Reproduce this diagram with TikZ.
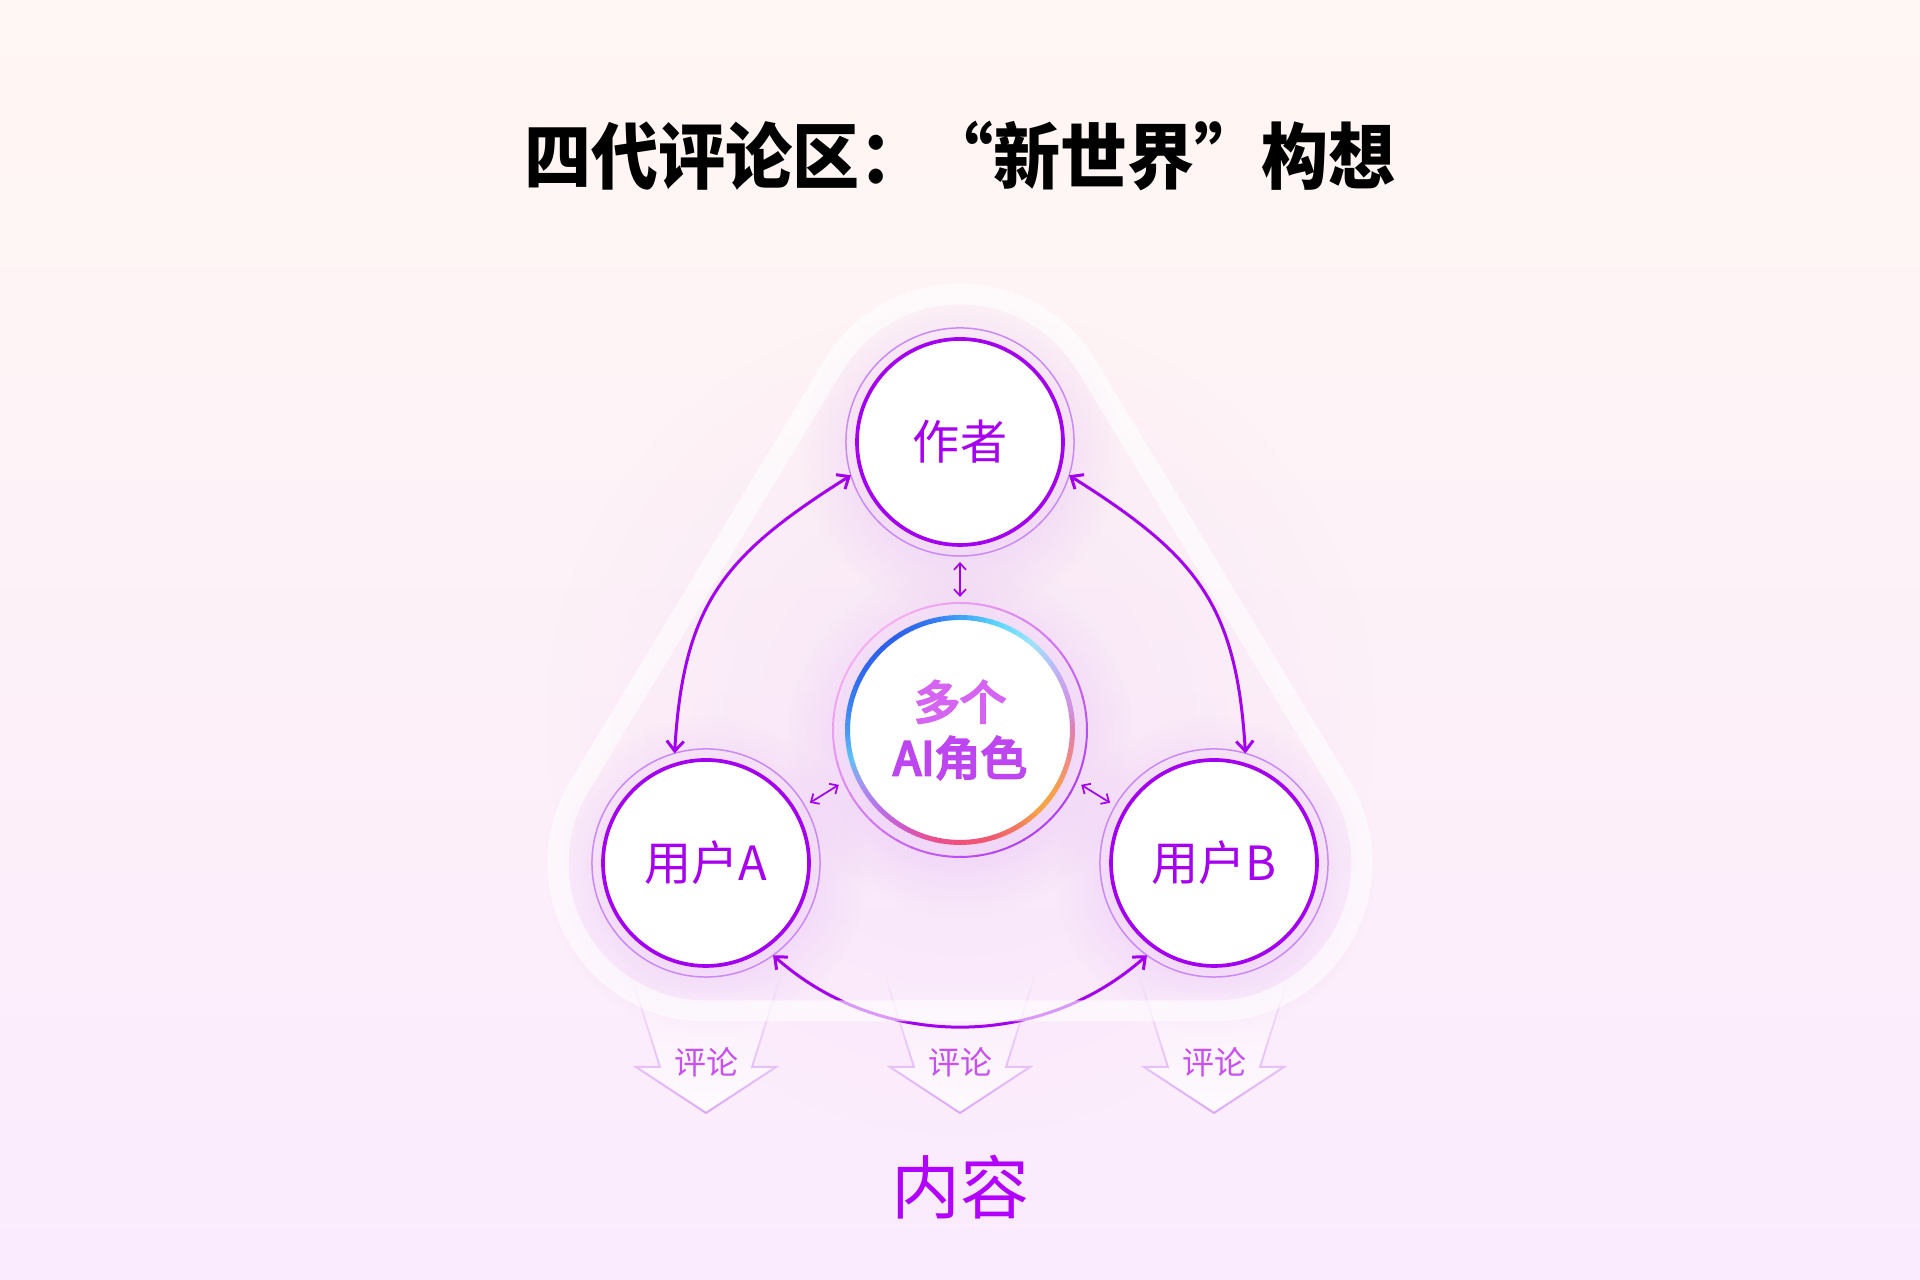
\documentclass[tikz,border=0pt]{standalone}
\usepackage{fontspec}
\setmainfont{Noto Sans CJK SC}
\newfontfamily\cjkmed{Noto Sans CJK SC}[FakeBold=5]
\usetikzlibrary{calc,arrows.meta,fadings}
\definecolor{bgtop}{RGB}{255,247,243}
\definecolor{bgbot}{RGB}{251,235,254}
\definecolor{mainp}{RGB}{163,0,240}
\definecolor{thinring}{RGB}{201,138,245}
\definecolor{txtp}{RGB}{166,0,238}
\definecolor{cmtp}{RGB}{200,80,240}
\definecolor{cmtedge}{RGB}{221,168,247}
\definecolor{contp}{RGB}{178,0,255}
\definecolor{glowc}{RGB}{205,130,245}
\definecolor{ringpink}{RGB}{245,176,240}
\definecolor{ringpurp}{RGB}{176,64,240}
\definecolor{aitop}{RGB}{214,100,242}
\definecolor{aibot}{RGB}{190,70,240}
\tikzfading[name=radfade, inner color=transparent!0, outer color=transparent!100]
\tikzfading[name=fadeup, top color=transparent!100, bottom color=transparent!0]
\begin{document}
\begin{tikzpicture}[x=0.01cm,y=0.01cm,
  bigarr/.style={draw=mainp, line width=0.03cm, {Straight Barb[length=0.1cm,width=0.17cm]}-{Straight Barb[length=0.1cm,width=0.17cm]}},
  smallarr/.style={draw=mainp, line width=0.017cm, {Straight Barb[length=0.065cm,width=0.12cm]}-{Straight Barb[length=0.065cm,width=0.12cm]}, shorten <=0.06cm, shorten >=0.06cm},
  ringnode/.style={circle, inner sep=0pt, outer sep=0pt, minimum size=2.28cm, draw=thinring, line width=0.015cm, text=txtp, font=\fontsize{13.4pt}{16pt}\selectfont},
  innerdisk/.style={fill=white, draw=mainp, line width=0.037cm},
  shadowc/.style={fill=glowc, fill opacity=0.4, path fading=radfade},
  cmtarrow/.style={draw=cmtedge, line width=0.02cm, fill=white, fill opacity=0.8, path fading=fadeup},
  cmt/.style={text=cmtp, font=\fontsize{9.1pt}{11pt}\selectfont},
  band/.style={draw=white, draw opacity=0.6, line width=0.21cm}
]
\useasboundingbox (0,0) rectangle (1920,1280);
\shade[top color=bgtop, bottom color=bgbot] (0,0) rectangle (1920,1280);

\coordinate (T) at (960,838);
\coordinate (AIc) at (960,550);
\coordinate (A) at (706,417);
\coordinate (B) at (1214,417);

% soft glow in the middle
\fill[glowc, fill opacity=0.1, path fading=radfade] (960,560) circle[radius=420];

% shadows
\fill[shadowc] ($(T)+(0,-12)$) circle[radius=160];
\fill[shadowc] ($(A)+(0,-12)$) circle[radius=160];
\fill[shadowc] ($(B)+(0,-12)$) circle[radius=160];
\fill[shadowc] ($(AIc)+(0,-12)$) circle[radius=175];

% comment arrows
\foreach \cx/\nm in {706/cA, 960/cM, 1214/cB} {
  \draw[cmtarrow] (\cx-75,305) -- (\cx-46,213) -- (\cx-70,213) -- (\cx,167) -- (\cx+70,213) -- (\cx+46,213) -- (\cx+75,305);
  \node[cmt] (\nm) at (\cx,218) {评论};
}

% inner disks
\draw[innerdisk] (T) circle[radius=103];
\draw[innerdisk] (A) circle[radius=103];
\draw[innerdisk] (B) circle[radius=103];
\fill[white] (AIc) circle[radius=111];

% AI gradient ring
\foreach \a/\b/\ca/\cb in {90/105/40A0F5/3478EF, 105/125/3478EF/2E60EA, 125/150/2E60EA/3068EC, 150/165/3068EC/3A7EF0, 165/180/3A7EF0/4896F4, 180/195/4896F4/60C0F5, 195/210/60C0F5/A890F0, 210/225/A890F0/B870E8, 225/240/B870E8/D058C8, 240/255/D058C8/E85290, 255/270/E85290/F0507A, 270/285/F0507A/F05870, 285/300/F05870/F37860, 300/315/F37860/F6A545, 315/330/F6A545/F5A050, 330/345/F5A050/EE8A88, 345/360/EE8A88/E080B0, 360/370/E080B0/D090E0, 370/390/D090E0/C0B0F5, 390/410/C0B0F5/9EE4FA, 410/430/9EE4FA/5ED8FA, 430/450/5ED8FA/40A0F5} {
  \definecolor{gA}{HTML}{\ca}\definecolor{gB}{HTML}{\cb}
  \foreach \i in {0,...,5} {
    \pgfmathsetmacro\s{\a+(\b-\a)*\i/6}
    \pgfmathsetmacro\e{\a+(\b-\a)*(\i+1)/6+0.4}
    \pgfmathtruncatemacro\p{100-(\i+0.5)*100/6}
    \draw[line width=0.05cm, draw=gA!\p!gB] ($(AIc)+(\s:112.5)$) arc[start angle=\s, end angle=\e, radius=112.5];
  }
}
% AI outer thin ring
\foreach \i in {0,...,47} {
  \pgfmathsetmacro\s{\i*7.5}
  \pgfmathtruncatemacro\p{50*(1+cos(\s+3.75-135))}
  \draw[line width=0.02cm, draw=ringpink!\p!ringpurp] ($(AIc)+(\s:127)$) arc[start angle=\s, end angle=\s+8, radius=127];
}

% nodes
\node[ringnode] (auth) at (T) {作者};
\node[ringnode] (ua) at (A) {用户A};
\node[ringnode] (ub) at (B) {用户B};
\node[circle, inner sep=0pt, outer sep=0pt, minimum size=2.54cm, align=center, font=\fontsize{13.1pt}{15.9pt}\cjkmed] (ai) at (AIc) {\textcolor{aitop}{多个}\\\textcolor{aibot}{AI角色}};

% bottom curve (under the band)
\draw[bigarr] (ua.-54) .. controls +(107,-95) and +(-107,-95) .. (ub.234);

% rounded triangle band
\draw[band] ($(A)+(148.9:148)$) -- ($(T)+(148.9:148)$) arc[start angle=148.9, end angle=31.1, radius=148] -- ($(B)+(31.1:148)$) arc[start angle=31.1, end angle=-90, radius=148] -- ($(A)+(-90:148)$) arc[start angle=270, end angle=148.9, radius=148] -- cycle;

% side curves
\draw[bigarr] (auth.197) .. controls +(-127,-80) and +(9,150) .. (ua.106);
\draw[bigarr] (auth.-17) .. controls +(127,-80) and +(-9,150) .. (ub.74);

% short arrows
\draw[smallarr] (auth.south) -- (ai.north);
\draw[smallarr] (ua.30) -- (ai.204);
\draw[smallarr] (ub.150) -- (ai.-24);

% texts
\node[font=\fontsize{20.5pt}{24pt}\selectfont\bfseries, text=black] (title) at (960,1124) {\scalebox{0.93}[1]{四代评论区：“新世界”构想}};
\node[font=\fontsize{19.6pt}{24pt}\selectfont, text=contp] (content) at (960,93) {内容};
\end{tikzpicture}
\end{document}
